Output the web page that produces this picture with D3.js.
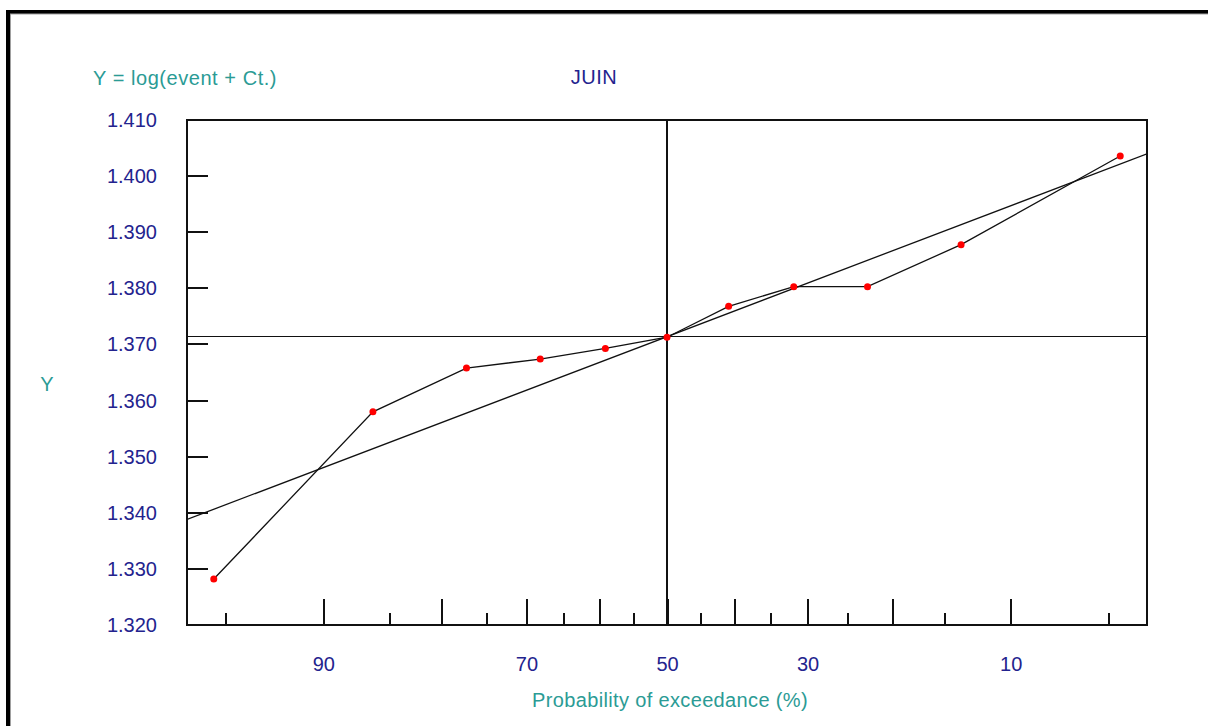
<!DOCTYPE html>
<html>
<head>
<meta charset="utf-8">
<script src="https://cdn.jsdelivr.net/npm/d3@7"></script>
<style>
  html, body { margin: 0; padding: 0; background: #fff; }
  svg { display: block; }
  text { font-family: "Liberation Sans", Arial, sans-serif; }
</style>
</head>
<body>
<svg id="chart" width="1208" height="726"></svg>
<script>
// ---- Data ----
const title = "JUIN";
const yAxisTitle = "Y = log(event + Ct.)";
const yLabel = "Y";
const xLabel = "Probability of exceedance (%)";

// exceedance probability (%) of each sorted observation
const exceedance = [95.45, 86.36, 77.27, 68.18, 59.09, 50.00, 40.91, 31.82, 22.73, 13.64, 4.55];
// Y value of each observation
const values = [1.3281, 1.3579, 1.3657, 1.3673, 1.3692, 1.3712, 1.3767, 1.3802, 1.3802, 1.3877, 1.4035];

// fitted normal line (mean and standard deviation)
const fitMean = 1.3713;
const fitSd = 0.0182;

const yTicks = [1.320, 1.330, 1.340, 1.350, 1.360, 1.370, 1.380, 1.390, 1.400, 1.410];
const xMajorTicks = [90, 80, 70, 60, 50, 40, 30, 20, 10];
const xMinorTicks = [95, 85, 75, 65, 55, 45, 35, 25, 15, 5];
const xLabelTicks = [90, 70, 50, 30, 10];
const zDomain = [-1.79, 1.79];
const yDomain = [1.320, 1.410];

// ---- inverse normal CDF (Acklam) ----
function probit(p) {
  const a=[-3.969683028665376e+01,2.209460984245205e+02,-2.759285104469687e+02,1.383577518672690e+02,-3.066479806614716e+01,2.506628277459239e+00];
  const b=[-5.447609879822406e+01,1.615858368580409e+02,-1.556989798598866e+02,6.680131188771972e+01,-1.328068155288572e+01];
  const c=[-7.784894002430293e-03,-3.223964580411365e-01,-2.400758277161838e+00,-2.549732539343734e+00,4.374664141464968e+00,2.938163982698783e+00];
  const d=[7.784695709041462e-03,3.224671290700398e-01,2.445134137142996e+00,3.754408661907416e+00];
  const pl = 0.02425, ph = 1 - pl;
  let q, r;
  if (p < pl) { q = Math.sqrt(-2*Math.log(p)); return (((((c[0]*q+c[1])*q+c[2])*q+c[3])*q+c[4])*q+c[5])/((((d[0]*q+d[1])*q+d[2])*q+d[3])*q+1); }
  if (p <= ph) { q = p - 0.5; r = q*q; return (((((a[0]*r+a[1])*r+a[2])*r+a[3])*r+a[4])*r+a[5])*q/(((((b[0]*r+b[1])*r+b[2])*r+b[3])*r+b[4])*r+1); }
  q = Math.sqrt(-2*Math.log(1-p)); return -(((((c[0]*q+c[1])*q+c[2])*q+c[3])*q+c[4])*q+c[5])/((((d[0]*q+d[1])*q+d[2])*q+d[3])*q+1);
}
const zOf = e => probit(1 - e/100);

// ---- layout ----
const L = 187, R = 1147, T = 119.5, B = 624.5;
const navy = "#23238e", teal = "#2b9b95";

const svg = d3.select("#chart");
const x = d3.scaleLinear().domain(zDomain).range([L, R]);
const y = d3.scaleLinear().domain(yDomain).range([B, T]);

// outer window frame
svg.append("rect").attr("x", 6).attr("y", 10).attr("width", 1300).attr("height", 900).attr("fill", "#000");
svg.append("rect").attr("x", 10).attr("y", 13.5).attr("width", 1300).attr("height", 900).attr("fill", "#a0a0a0");
svg.append("rect").attr("x", 11).attr("y", 14.5).attr("width", 1300).attr("height", 900).attr("fill", "#fff");

// texts
svg.append("text").attr("x", 93).attr("y", 85).attr("fill", teal).attr("font-size", 20).attr("letter-spacing", 0.55).text(yAxisTitle);
svg.append("text").attr("x", 594).attr("y", 84).attr("fill", navy).attr("font-size", 20).attr("letter-spacing", 0.5).attr("text-anchor", "middle").text(title);
svg.append("text").attr("x", 47).attr("y", 391).attr("fill", teal).attr("font-size", 20).attr("text-anchor", "middle").text(yLabel);
svg.append("text").attr("x", 670).attr("y", 707).attr("fill", teal).attr("font-size", 20).attr("letter-spacing", 0.35).attr("text-anchor", "middle").text(xLabel);

const plot = svg.append("g");
// clip
svg.append("clipPath").attr("id", "clip").append("rect").attr("x", L).attr("y", T).attr("width", R - L).attr("height", B - T);

// crosshair
plot.append("line").attr("x1", x(zOf(50))).attr("x2", x(zOf(50))).attr("y1", T).attr("y2", B)
  .attr("stroke", "#111").attr("stroke-width", 1.2).attr("shape-rendering", "crispEdges");
plot.append("line").attr("x1", L).attr("x2", R).attr("y1", y(fitMean)).attr("y2", y(fitMean))
  .attr("stroke", "#111").attr("stroke-width", 1.2).attr("shape-rendering", "crispEdges");

// fitted line
const fitLine = d3.line().x(d => x(d)).y(d => y(fitMean + fitSd * d));
plot.append("path").attr("d", fitLine(zDomain)).attr("clip-path", "url(#clip)")
  .attr("fill", "none").attr("stroke", "#111").attr("stroke-width", 1.3);

// data line
const pts = exceedance.map((e, i) => ({ z: zOf(e), v: values[i] }));
const dataLine = d3.line().x(d => x(d.z)).y(d => y(d.v));
plot.append("path").attr("d", dataLine(pts)).attr("fill", "none").attr("stroke", "#111").attr("stroke-width", 1.3);

// points
plot.selectAll("circle.pt").data(pts).join("circle").attr("class", "pt")
  .attr("cx", d => x(d.z)).attr("cy", d => y(d.v)).attr("r", 3.5).attr("fill", "#ff0000");

// Y axis
const yAxis = d3.axisLeft(y).tickValues(yTicks).tickSize(-21).tickPadding(30).tickFormat(d3.format(".3f"));
const gy = svg.append("g").attr("transform", `translate(${L},0)`).call(yAxis);
gy.select(".domain").remove();
gy.selectAll(".tick line").attr("stroke", "#111").attr("stroke-width", 2).attr("shape-rendering", "crispEdges");
gy.selectAll(".tick text").attr("fill", navy).attr("font-size", 20).attr("font-family", "Liberation Sans, Arial, sans-serif").attr("dy", "0.35em");

// X axis major ticks
const xAxisMajor = d3.axisBottom(x).tickValues(xMajorTicks.map(zOf)).tickSize(-26).tickPadding(32)
  .tickFormat((d, i) => xLabelTicks.includes(xMajorTicks[i]) ? String(xMajorTicks[i]) : "");
const gx = svg.append("g").attr("transform", `translate(0,${B})`).call(xAxisMajor);
gx.select(".domain").remove();
gx.selectAll(".tick line").attr("stroke", "#111").attr("stroke-width", 2).attr("shape-rendering", "crispEdges");
gx.selectAll(".tick text").attr("fill", navy).attr("font-size", 20).attr("font-family", "Liberation Sans, Arial, sans-serif");

// X axis minor ticks
const xAxisMinor = d3.axisBottom(x).tickValues(xMinorTicks.map(zOf)).tickSize(-12).tickFormat("");
const gm = svg.append("g").attr("transform", `translate(0,${B})`).call(xAxisMinor);
gm.select(".domain").remove();
gm.selectAll(".tick line").attr("stroke", "#111").attr("stroke-width", 2).attr("shape-rendering", "crispEdges");

// plot frame
svg.append("rect").attr("x", L).attr("y", T).attr("width", R - L).attr("height", B - T)
  .attr("fill", "none").attr("stroke", "#111").attr("stroke-width", 2).attr("shape-rendering", "crispEdges");
</script>
</body>
</html>
